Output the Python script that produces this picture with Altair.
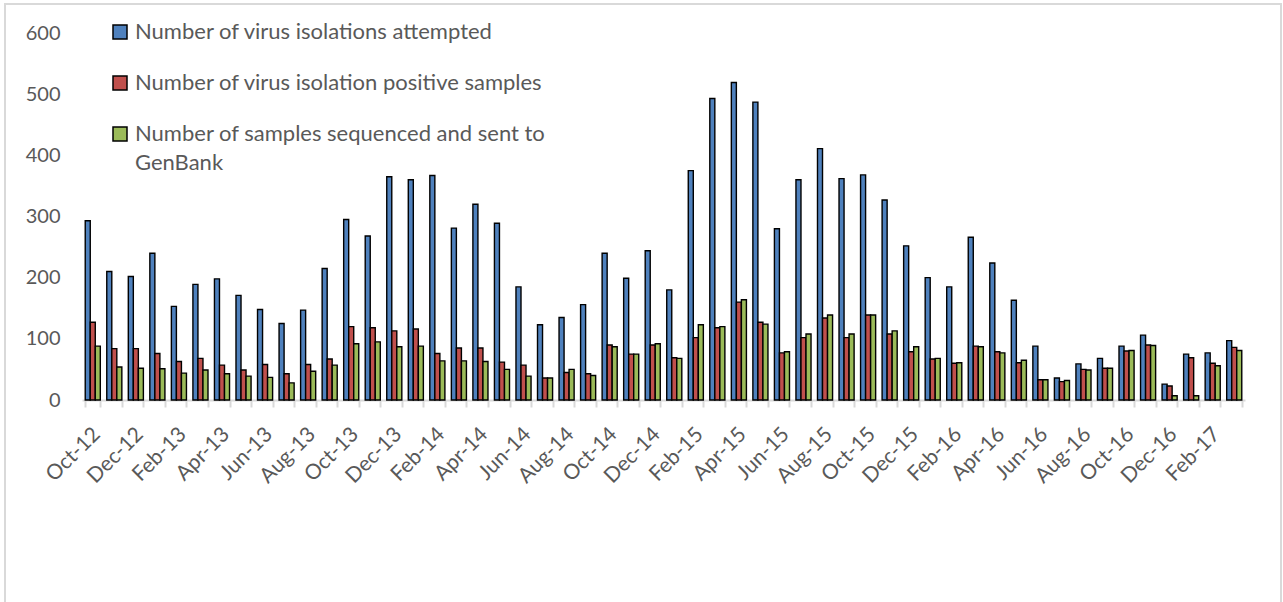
import altair as alt
import pandas as pd

months = ["Oct-12","Nov-12","Dec-12","Jan-13","Feb-13","Mar-13","Apr-13","May-13","Jun-13","Jul-13","Aug-13","Sep-13",
          "Oct-13","Nov-13","Dec-13","Jan-14","Feb-14","Mar-14","Apr-14","May-14","Jun-14","Jul-14","Aug-14","Sep-14",
          "Oct-14","Nov-14","Dec-14","Jan-15","Feb-15","Mar-15","Apr-15","May-15","Jun-15","Jul-15","Aug-15","Sep-15",
          "Oct-15","Nov-15","Dec-15","Jan-16","Feb-16","Mar-16","Apr-16","May-16","Jun-16","Jul-16","Aug-16","Sep-16",
          "Oct-16","Nov-16","Dec-16","Jan-17","Feb-17","Mar-17"]

attempted = [293,210,202,240,153,189,198,171,148,125,147,215,
             295,268,365,360,367,281,320,289,185,123,135,156,
             240,199,244,180,375,493,519,487,280,360,411,362,
             368,327,252,200,185,266,224,163,88,36,59,68,
             88,106,26,75,77,97]
positive = [127,84,84,76,63,68,57,49,58,43,58,67,
            120,118,113,116,76,85,85,62,57,36,45,43,
            90,75,90,69,102,118,160,127,77,102,134,102,
            139,108,79,67,60,88,79,61,33,30,50,52,
            80,90,23,69,60,86]
sequenced = [88,54,52,51,44,49,43,39,37,28,47,57,
             92,95,87,88,64,64,63,50,39,36,50,40,
             87,75,92,68,123,120,164,124,79,108,139,108,
             139,113,87,68,61,87,77,65,33,32,49,52,
             81,89,7,7,56,81]

series = ["Number of virus isolations attempted",
          "Number of virus isolation positive samples",
          "Number of samples sequenced and sent to GenBank"]
colors = ["#4F81BD", "#C0504D", "#9BBB59"]

rows = []
for name, vals in zip(series, [attempted, positive, sequenced]):
    for m, v in zip(months, vals):
        rows.append({"month": m, "series": name, "value": v})
df = pd.DataFrame(rows)

W, H = 1163, 367
FONT = "Lato"

bars = alt.Chart(df).mark_bar(stroke="black", strokeWidth=1.4).encode(
    x=alt.X("month:N", sort=months, title=None,
            scale=alt.Scale(paddingInner=0.3, paddingOuter=0.15),
            axis=alt.Axis(labelAngle=-45, labelFontSize=21, labelColor="#595959",
                          labelFont=FONT, labelPadding=16, labelOffset=-4,
                          labelExpr="test(/^(Oct|Dec|Feb|Apr|Jun|Aug)/, datum.value) ? datum.label : ''",
                          domainColor="#d9d9d9", domainWidth=2, tickColor="#d9d9d9",
                          tickWidth=2, tickSize=7, tickBand="extent", labelOverlap=False)),
    xOffset=alt.XOffset("series:N", sort=series),
    y=alt.Y("value:Q", title=None,
            scale=alt.Scale(domain=[0, 600], nice=False),
            axis=alt.Axis(values=[0,100,200,300,400,500,600], grid=False, domain=False, ticks=False,
                          labelFontSize=20, labelColor="#595959", labelFont=FONT, labelPadding=22)),
    color=alt.Color("series:N", sort=series,
                    scale=alt.Scale(domain=series, range=colors),
                    legend=alt.Legend(title=None, orient="none", legendX=27, legendY=-12,
                                      direction="vertical", symbolType="square", symbolSize=196,
                                      symbolStrokeColor="black", symbolStrokeWidth=1.5,
                                      labelFontSize=22, labelFont=FONT, labelColor="#595959",
                                      labelLimit=800, rowPadding=29, labelOffset=4,
                                      labelExpr="datum.label == 'Number of samples sequenced and sent to GenBank' ? ['Number of samples sequenced and sent to', 'GenBank'] : datum.label")),
)

border = alt.Chart(alt.Data(values=[{}])).mark_rect(fill=None, stroke="#d9d9d9", strokeWidth=2).encode(
    x=alt.value(-77), x2=alt.value(W + 36), y=alt.value(-29), y2=alt.value(H + 210)
)

chart = alt.layer(border, bars).properties(
    width=W, height=H,
    padding={"left": 82, "top": 33, "right": 38, "bottom": 202},
    autosize=alt.AutoSizeParams(type="none"),
).configure(
    style={"guide-label": {"lineHeight": 29}}
).configure_view(stroke=None)

chart.save("out.html", embed_options={"renderer": "svg", "actions": False})
